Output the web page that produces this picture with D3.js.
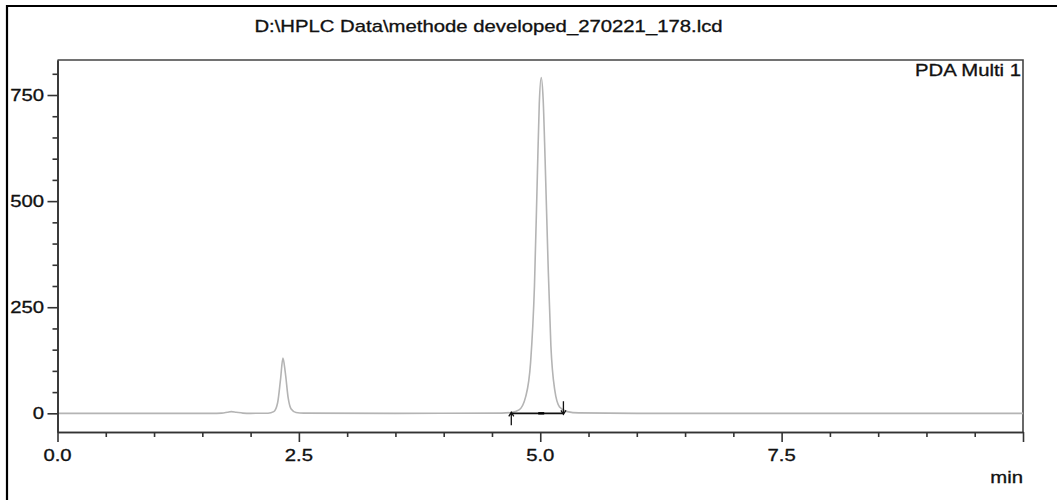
<!DOCTYPE html>
<html>
<head>
<meta charset="utf-8">
<script src="https://cdn.jsdelivr.net/npm/d3@7"></script>
<style>
  html, body { margin: 0; padding: 0; background: #fff; }
  svg { display: block; }
  text { font-family: "Liberation Sans", Arial, sans-serif; fill: #111; stroke: #111; stroke-width: 0.3; }
</style>
</head>
<body>
<svg id="chart" width="1057" height="500"></svg>
<script>
// Chromatogram trace: retention time (min) and detector response (mAU)
const traceTime = [
  0.00, 1.00, 1.60, 1.70, 1.76, 1.80, 1.85, 1.92, 2.00, 2.18, 2.24, 2.28, 2.31, 2.335,
  2.36, 2.39, 2.42, 2.47, 2.55, 3.50, 4.60, 4.70, 4.78, 4.85, 4.90, 4.94, 4.97, 4.99,
  5.01, 5.03, 5.05, 5.08, 5.11, 5.15, 5.20, 5.28, 5.40, 6.00, 8.00, 10.00
];
const traceSignal = [
  0, 0, 0, 0.5, 2.5, 4, 2.5, 0.5, 0, 0.3, 4, 25, 80, 130,
  95, 35, 10, 2, 0.5, 0, 0.5, 2, 8, 40, 120, 300, 560, 730,
  791, 740, 600, 360, 160, 55, 15, 4, 1, 0, 0, 0
];

// Integration window of the main peak (min)
const peakStart = 4.70;
const peakEnd = 5.24;
const peakApex = 5.01;

// Axis ticks
const xMajorTicks = [0, 2.5, 5, 7.5, 10];
const xMajorLabels = ["0.0", "2.5", "5.0", "7.5", ""];
const xMinorTicks = [0.5, 1, 1.5, 2, 3, 3.5, 4, 4.5, 5.5, 6, 6.5, 7, 8, 8.5, 9, 9.5];
const yMajorTicks = [0, 250, 500, 750];
const yMinorTicks = [50, 100, 150, 200, 300, 350, 400, 450, 550, 600, 650, 700, 800];

const titleText = "D:\\HPLC Data\\methode developed_270221_178.lcd";
const channelText = "PDA Multi 1";
const xUnitText = "min";

const svg = d3.select("#chart");
const W = 1057, H = 500;
const plot = { left: 57.5, right: 1023, top: 60, bottom: 432 };

const x = d3.scaleLinear().domain([0, 10]).range([plot.left, plot.right]);
const y = d3.scaleLinear().domain([-44, 832.5]).range([plot.bottom, plot.top]);

// Stretched text helper (the report font is rendered wide)
const SX = 1.27;
function label(px, py, str, anchor, size) {
  svg.append("text")
    .attr("transform", `translate(${px},${py}) scale(${SX},1)`)
    .attr("text-anchor", anchor)
    .attr("font-size", size || 16)
    .text(str);
}

// Outer report frame
svg.append("path")
  .attr("d", `M7,${H + 5} L7,6 L${W + 5},6`)
  .attr("fill", "none").attr("stroke", "#000").attr("stroke-width", 2.2);

// Plot box (top and right edges)
svg.append("path")
  .attr("d", `M${plot.left},${plot.top} L${plot.right},${plot.top} L${plot.right},${plot.bottom}`)
  .attr("fill", "none").attr("stroke", "#444").attr("stroke-width", 1.6);

// Trace
const pts = traceTime.map((t, i) => [t, traceSignal[i]]);
svg.append("path")
  .datum(pts)
  .attr("d", d3.line().x(d => x(d[0])).y(d => y(d[1])).curve(d3.curveMonotoneX))
  .attr("fill", "none").attr("stroke", "#b4b4b4").attr("stroke-width", 1.6);

// Axes
function styleAxis(g) {
  g.selectAll("path, line").attr("stroke", "#333").attr("stroke-width", 1.6);
  g.selectAll("text").remove();
}
svg.append("g").attr("transform", `translate(0,${plot.bottom})`)
  .call(d3.axisBottom(x).tickValues(xMinorTicks).tickSize(5).tickSizeOuter(0)).call(styleAxis);
svg.append("g").attr("transform", `translate(0,${plot.bottom})`)
  .call(d3.axisBottom(x).tickValues(xMajorTicks).tickSize(10).tickSizeOuter(0)).call(styleAxis);
svg.append("g").attr("transform", `translate(${plot.left},0)`)
  .call(d3.axisLeft(y).tickValues(yMinorTicks).tickSize(5).tickSizeOuter(0)).call(styleAxis);
svg.append("g").attr("transform", `translate(${plot.left},0)`)
  .call(d3.axisLeft(y).tickValues(yMajorTicks).tickSize(10).tickSizeOuter(0)).call(styleAxis);

// Tick labels
xMajorTicks.forEach((v, i) => { if (xMajorLabels[i]) label(x(v), 461, xMajorLabels[i], "middle"); });
yMajorTicks.forEach(v => label(44, y(v) + 6, String(v), "end"));

// Integration baseline and markers
const by = y(0);
svg.append("line")
  .attr("x1", x(peakStart)).attr("x2", x(peakEnd)).attr("y1", by).attr("y2", by)
  .attr("stroke", "#111").attr("stroke-width", 1.6);
svg.append("line")
  .attr("x1", x(peakApex) - 3).attr("x2", x(peakApex) + 3).attr("y1", by).attr("y2", by)
  .attr("stroke", "#000").attr("stroke-width", 2.4);
// start marker: arrow pointing up from below
const sx = x(peakStart);
svg.append("path")
  .attr("d", `M${sx},${by + 12} L${sx},${by - 1} M${sx - 2.5},${by + 3} L${sx},${by - 1} L${sx + 2.5},${by + 3}`)
  .attr("fill", "none").attr("stroke", "#111").attr("stroke-width", 1.3);
// end marker: arrow pointing down from above
const ex = x(peakEnd);
svg.append("path")
  .attr("d", `M${ex},${by - 12} L${ex},${by + 1} M${ex - 2.5},${by - 3} L${ex},${by + 1} L${ex + 2.5},${by - 3}`)
  .attr("fill", "none").attr("stroke", "#111").attr("stroke-width", 1.3);

// Texts
label(488.5, 32, titleText, "middle");
label(1021, 76, channelText, "end");
label(1023, 483, xUnitText, "end");
</script>
</body>
</html>
